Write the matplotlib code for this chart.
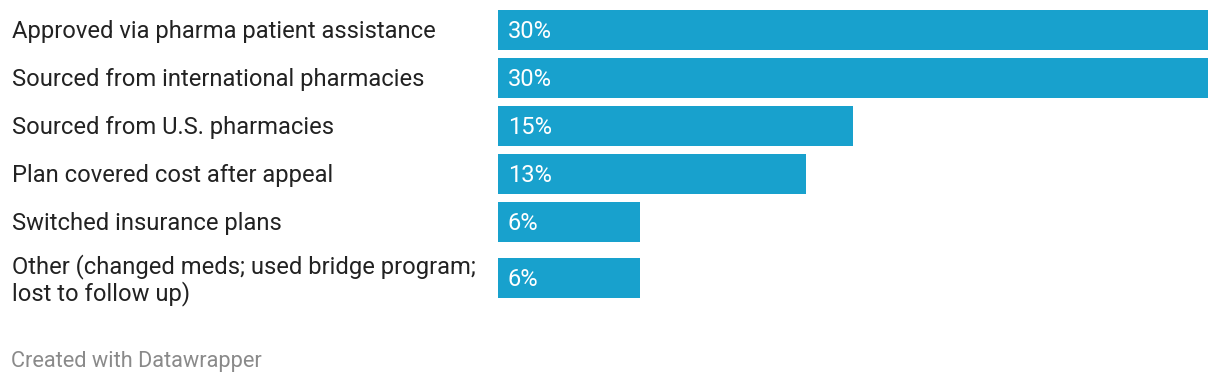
import matplotlib
matplotlib.use("Agg")
import matplotlib.pyplot as plt

categories = [
    "Approved via pharma patient assistance",
    "Sourced from international pharmacies",
    "Sourced from U.S. pharmacies",
    "Plan covered cost after appeal",
    "Switched insurance plans",
    "Other (changed meds; used bridge program;\nlost to follow up)",
]
values = [30, 30, 15, 13, 6, 6]
value_labels = ["30%", "30%", "15%", "13%", "6%", "6%"]

W, H = 1220, 384
fig = plt.figure(figsize=(W / 100, H / 100), dpi=100)
fig.patch.set_facecolor("white")

left_px, right_px = 498, 1208
ax = fig.add_axes([left_px / W, 0, (right_px - left_px) / W, 1])
ax.set_xlim(0, 30)
ax.set_ylim(H, 0)
ax.axis("off")

bar_color = "#18a1cd"
step = 48
bar_h = 40
extra = 8
ypos = []
y = 29.5
for i, c in enumerate(categories):
    if "\n" in c:
        y += extra
    ypos.append(y)
    y += step

ax.barh(ypos, values, height=bar_h, color=bar_color, linewidth=0)

font = "Roboto"
for yc, cat, v, lab in zip(ypos, categories, values, value_labels):
    dy = 2 if "\n" not in cat else 2.5
    fig.text(12 / W, 1 - (yc + dy) / H, cat, ha="left", va="center", fontsize=17.1,
             family=font, color="#222222", linespacing=1.15)
    ax.annotate(lab, xy=(0, yc + 1.5), xytext=(10, 0), textcoords="offset pixels",
                ha="left", va="center", fontsize=17, family=font, color="white")

fig.text(11 / W, 1 - 362 / H, "Created with Datawrapper", ha="left", va="center",
         fontsize=15.7, family=font, color="#8a8a8a")

fig.savefig("out.png", dpi=100, facecolor="white")
